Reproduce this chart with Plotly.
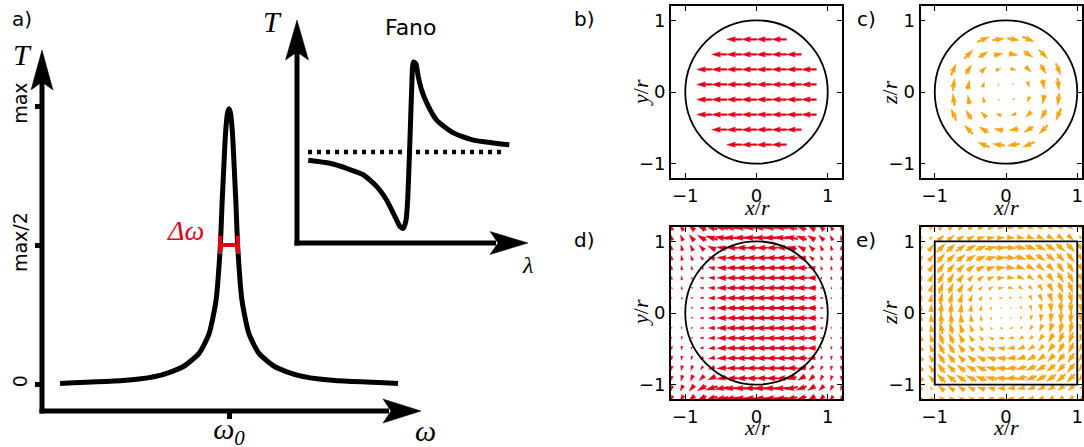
import math
import plotly.graph_objects as go

W, H = 1084, 447
RED = "#e2001a"
ORANGE = "#f5a30f"
SANS = "DejaVu Sans"
SERIF = "Liberation Serif"

# ------------------------------------------------------------------ data
# panel a: resonance line (omega relative to omega_0, T normalised to max)
lorentz_omega = [-16.9, -10.0, -6.8, -4.6, -3.0, -2.0, -1.3, -0.88, -0.68, -0.52, -0.35, -0.15, 0.0,
                 0.15, 0.35, 0.52, 0.68, 0.88, 1.3, 2.0, 3.0, 4.6, 6.8, 10.0, 16.9]
lorentz_T = [0.002, 0.014, 0.032, 0.062, 0.11, 0.18, 0.30, 0.49, 0.66, 0.78, 0.90, 0.975, 0.99,
             0.975, 0.90, 0.78, 0.66, 0.49, 0.30, 0.18, 0.11, 0.062, 0.032, 0.014, 0.002]
omega_0 = 0.0
delta_omega = 1.8
T_tickvals = [0, 0.5, 1]
T_ticktext = ["0", "max/2", "max"]

# inset: Fano line shape
fano_lambda = [0.49, 1.43, 2.16, 2.88, 3.47, 3.90, 4.26, 4.48, 4.62, 4.74, 4.81, 4.87, 4.93, 4.99,
               5.06, 5.17, 5.27, 5.42, 5.64, 6.07, 6.80, 7.67, 8.53, 9.23]
fano_T = [0.91, 0.876, 0.82, 0.75, 0.62, 0.47, 0.29, 0.18, 0.16, 0.25, 0.47, 0.84, 1.28, 1.72,
          1.99, 1.97, 1.83, 1.68, 1.54, 1.35, 1.21, 1.13, 1.10, 1.08]
fano_background_T = 1.0
fano_background_lambda = [0.48, 9.05]

# panels b-e: field maps (angle in degrees, arrow length in 1/100 of r)
particle_radius = 1.0
cube_half_side = 1.0
coarse_grid = [-0.735, -0.525, -0.315, -0.105, 0.105, 0.315, 0.525, 0.735]
fine_grid = [-1.19, -1.05, -0.91, -0.77, -0.63, -0.49, -0.35, -0.21, -0.07,
             0.07, 0.21, 0.35, 0.49, 0.63, 0.77, 0.91, 1.05, 1.19]
tick_vals = [-1, 0, 1]
tick_text = ["\u22121", "0", "1"]

b_angle = 180
b_length = [
    [0, 0, 21, 21, 21, 21, 0, 0],
    [0, 21, 21, 21, 21, 21, 21, 0],
    [21, 21, 21, 21, 21, 21, 21, 21],
    [21, 21, 21, 21, 21, 21, 21, 21],
    [21, 21, 21, 21, 21, 21, 21, 21],
    [21, 21, 21, 21, 21, 21, 21, 21],
    [0, 21, 21, 21, 21, 21, 21, 0],
    [0, 0, 21, 21, 21, 21, 0, 0],
]

c_angle = [
    [0, 0, 23, 8, -8, -23, 0, 0],
    [0, 45, 31, 11, -11, -31, -45, 0],
    [67, 59, 45, 18, -18, -45, -59, -67],
    [82, 79, 72, 45, -45, -72, -79, -82],
    [98, 101, 108, 135, -135, -108, -101, -98],
    [113, 121, 135, 162, -162, -135, -121, -113],
    [0, 135, 149, 169, -169, -149, -135, 0],
    [0, 0, 157, 172, -172, -157, 0, 0],
]
c_length = [
    [0, 0, 18, 17, 17, 18, 0, 0],
    [0, 17, 15, 13, 13, 15, 17, 0],
    [18, 15, 11, 8, 8, 11, 15, 18],
    [17, 13, 8, 3, 3, 8, 13, 17],
    [17, 13, 8, 3, 3, 8, 13, 17],
    [18, 15, 11, 8, 8, 11, 15, 18],
    [0, 17, 15, 13, 13, 15, 17, 0],
    [0, 0, 18, 17, 17, 18, 0, 0],
]

d_angle = [
    [110, 125, 140, 155, 165, 172, 177, 180, 180, 180, 180, 178, 172, 163, 150, 140, 130, 120],
    [105, 115, 130, 150, 163, 172, 177, 180, 180, 180, 180, 177, 170, 160, 148, 135, 120, 105],
    [100, 105, 115, 135, 155, 170, 178, 180, 180, 180, 180, 178, 168, 150, 135, 120, 105, 95],
    [97, 100, 110, 130, 160, 175, 180, 180, 180, 180, 180, 180, 178, 170, 140, 115, 100, 92],
    [95, 97, 105, 150, 170, 177, 180, 180, 180, 180, 180, 180, 180, 178, 170, 110, 95, 92],
    [93, 95, 100, 165, 175, 178, 180, 180, 180, 180, 180, 180, 180, 180, 178, 100, 93, 90],
    [92, 93, 170, 172, 177, 180, 180, 180, 180, 180, 180, 180, 180, 180, 180, 180, 92, 90],
    [91, 92, 175, 177, 180, 180, 180, 180, 180, 180, 180, 180, 180, 180, 180, 180, 91, 90],
    [90, 90, 180, 180, 180, 180, 180, 180, 180, 180, 180, 180, 180, 180, 180, 180, 90, 90],
    [270, 270, 180, 180, 180, 180, 180, 180, 180, 180, 180, 180, 180, 180, 180, 180, 270, 270],
    [269, 268, 185, 183, 180, 180, 180, 180, 180, 180, 180, 180, 180, 180, 180, 180, 269, 270],
    [268, 267, 190, 188, 183, 180, 180, 180, 180, 180, 180, 180, 180, 180, 180, 180, 268, 270],
    [267, 265, 260, 195, 185, 182, 180, 180, 180, 180, 180, 180, 180, 180, 182, 260, 267, 270],
    [265, 263, 255, 210, 190, 183, 180, 180, 180, 180, 180, 180, 180, 182, 190, 250, 265, 268],
    [263, 260, 250, 230, 200, 185, 180, 180, 180, 180, 180, 180, 182, 190, 220, 245, 260, 268],
    [260, 255, 245, 225, 205, 190, 182, 180, 180, 180, 180, 182, 192, 210, 225, 240, 255, 265],
    [255, 245, 230, 210, 197, 188, 183, 180, 180, 180, 180, 183, 190, 200, 212, 225, 240, 255],
    [250, 235, 220, 205, 195, 188, 183, 180, 180, 180, 180, 182, 188, 197, 210, 220, 230, 240],
]
d_length = [
    [7, 9, 11, 14, 16, 18, 19, 20, 20, 20, 19, 18, 16, 14, 12, 10, 8, 7],
    [7, 9, 11, 14, 17, 19, 21, 21, 21, 21, 21, 20, 18, 15, 12, 10, 8, 7],
    [6, 8, 9, 10, 12, 14, 15, 15, 15, 15, 15, 15, 14, 12, 10, 8, 7, 6],
    [6, 7, 7, 6, 9, 13, 15, 16, 16, 16, 16, 16, 15, 13, 8, 6, 6, 6],
    [5, 6, 5, 5, 9, 13, 15, 16, 16, 16, 16, 16, 16, 15, 11, 5, 5, 5],
    [4, 5, 3, 5, 9, 13, 15, 16, 16, 16, 16, 16, 16, 16, 12, 3, 4, 4],
    [3, 4, 3, 5, 9, 13, 15, 16, 17, 17, 17, 17, 17, 16, 13, 4, 3, 3],
    [2, 3, 3, 5, 9, 13, 15, 17, 17, 17, 17, 17, 17, 16, 13, 4, 2, 2],
    [1, 1, 3, 5, 9, 13, 15, 17, 17, 17, 17, 17, 17, 16, 13, 4, 1, 1],
    [1, 1, 3, 5, 9, 13, 15, 17, 17, 17, 17, 17, 17, 16, 13, 4, 1, 1],
    [2, 3, 3, 5, 9, 13, 15, 17, 17, 17, 17, 17, 17, 16, 13, 4, 2, 2],
    [3, 4, 3, 5, 9, 13, 15, 16, 17, 17, 17, 17, 17, 16, 13, 4, 3, 3],
    [4, 5, 3, 5, 9, 13, 15, 16, 16, 16, 16, 16, 16, 16, 12, 3, 4, 4],
    [5, 6, 5, 5, 9, 13, 15, 16, 16, 16, 16, 16, 16, 15, 11, 5, 5, 5],
    [6, 7, 7, 6, 9, 13, 15, 16, 16, 16, 16, 16, 15, 13, 8, 6, 6, 6],
    [6, 8, 9, 10, 12, 14, 15, 15, 15, 15, 15, 15, 14, 12, 10, 8, 7, 6],
    [7, 9, 11, 14, 17, 19, 21, 21, 21, 21, 21, 20, 18, 15, 12, 10, 8, 7],
    [7, 9, 11, 14, 16, 18, 19, 20, 20, 20, 19, 18, 16, 14, 12, 10, 8, 7],
]

e_angle = [
    [45, 41, 37, 33, 28, 22, 16, 10, 3, -3, -10, -16, -22, -28, -33, -37, -41, -45],
    [49, 45, 41, 36, 31, 25, 18, 11, 4, -4, -11, -18, -25, -31, -36, -41, -45, -49],
    [53, 49, 45, 40, 35, 28, 21, 13, 4, -4, -13, -21, -28, -35, -40, -45, -49, -53],
    [57, 54, 50, 45, 39, 32, 24, 15, 5, -5, -15, -24, -32, -39, -45, -50, -54, -57],
    [62, 59, 55, 51, 45, 38, 29, 18, 6, -6, -18, -29, -38, -45, -51, -55, -59, -62],
    [68, 65, 62, 58, 52, 45, 36, 23, 8, -8, -23, -36, -45, -52, -58, -62, -65, -68],
    [74, 72, 69, 66, 61, 54, 45, 31, 11, -11, -31, -45, -54, -61, -66, -69, -72, -74],
    [80, 79, 77, 75, 72, 67, 59, 45, 18, -18, -45, -59, -67, -72, -75, -77, -79, -80],
    [87, 86, 86, 85, 84, 82, 79, 72, 45, -45, -72, -79, -82, -84, -85, -86, -86, -87],
    [93, 94, 94, 95, 96, 98, 101, 108, 135, -135, -108, -101, -98, -96, -95, -94, -94, -93],
    [100, 101, 103, 105, 108, 113, 121, 135, 162, -162, -135, -121, -113, -108, -105, -103, -101, -100],
    [106, 108, 111, 114, 119, 126, 135, 149, 169, -169, -149, -135, -126, -119, -114, -111, -108, -106],
    [112, 115, 118, 122, 128, 135, 144, 157, 172, -172, -157, -144, -135, -128, -122, -118, -115, -112],
    [118, 121, 125, 129, 135, 142, 151, 162, 174, -174, -162, -151, -142, -135, -129, -125, -121, -118],
    [123, 126, 130, 135, 141, 148, 156, 165, 175, -175, -165, -156, -148, -141, -135, -130, -126, -123],
    [127, 131, 135, 140, 145, 152, 159, 167, 176, -176, -167, -159, -152, -145, -140, -135, -131, -127],
    [131, 135, 139, 144, 149, 155, 162, 169, 176, -176, -169, -162, -155, -149, -144, -139, -135, -131],
    [135, 139, 143, 147, 152, 158, 164, 170, 177, -177, -170, -164, -158, -152, -147, -143, -139, -135],
]
e_length = [
    [5, 5, 8, 8, 8, 8, 8, 8, 8, 8, 8, 8, 8, 8, 8, 8, 5, 5],
    [5, 5, 11, 11, 11, 11, 11, 11, 11, 11, 11, 11, 11, 11, 11, 11, 5, 5],
    [8, 11, 16, 16, 16, 16, 16, 16, 16, 16, 16, 16, 16, 16, 16, 16, 11, 8],
    [8, 11, 16, 15, 15, 15, 15, 15, 15, 15, 15, 15, 15, 15, 15, 16, 11, 8],
    [8, 11, 16, 15, 13, 13, 13, 13, 13, 13, 13, 13, 13, 13, 15, 16, 11, 8],
    [8, 11, 16, 15, 13, 10, 10, 10, 10, 10, 10, 10, 10, 13, 15, 16, 11, 8],
    [8, 11, 16, 15, 13, 10, 7, 7, 7, 7, 7, 7, 10, 13, 15, 16, 11, 8],
    [8, 11, 16, 15, 13, 10, 7, 4, 4, 4, 4, 7, 10, 13, 15, 16, 11, 8],
    [8, 11, 16, 15, 13, 10, 7, 4, 2, 2, 4, 7, 10, 13, 15, 16, 11, 8],
    [8, 11, 16, 15, 13, 10, 7, 4, 2, 2, 4, 7, 10, 13, 15, 16, 11, 8],
    [8, 11, 16, 15, 13, 10, 7, 4, 4, 4, 4, 7, 10, 13, 15, 16, 11, 8],
    [8, 11, 16, 15, 13, 10, 7, 7, 7, 7, 7, 7, 10, 13, 15, 16, 11, 8],
    [8, 11, 16, 15, 13, 10, 10, 10, 10, 10, 10, 10, 10, 13, 15, 16, 11, 8],
    [8, 11, 16, 15, 13, 13, 13, 13, 13, 13, 13, 13, 13, 13, 15, 16, 11, 8],
    [8, 11, 16, 15, 15, 15, 15, 15, 15, 15, 15, 15, 15, 15, 15, 16, 11, 8],
    [8, 11, 16, 16, 16, 16, 16, 16, 16, 16, 16, 16, 16, 16, 16, 16, 11, 8],
    [5, 5, 11, 11, 11, 11, 11, 11, 11, 11, 11, 11, 11, 11, 11, 11, 5, 5],
    [5, 5, 8, 8, 8, 8, 8, 8, 8, 8, 8, 8, 8, 8, 8, 8, 5, 5],
]


# ------------------------------------------------------------------ helpers
def pxx(x):
    return x / W


def pxy(y):
    return 1 - y / H


def quiver_polygons(xs, ys_top_down, angles, lengths, w=0.025):
    """matplotlib-like quiver arrows (pivot middle) as filled polygons in data units."""
    X, Y = [], []
    for i, yc in enumerate(ys_top_down):
        for j, xc in enumerate(xs):
            L = lengths[i][j] / 100.0
            if L <= 0:
                continue
            a = angles if isinstance(angles, (int, float)) else angles[i][j]
            t = math.radians(a)
            ct, st = math.cos(t), math.sin(t)
            if L >= 5 * w:
                pts = [(0, w / 2), (L - 4.5 * w, w / 2), (L - 5 * w, 1.5 * w), (L, 0),
                       (L - 5 * w, -1.5 * w), (L - 4.5 * w, -w / 2), (0, -w / 2)]
            else:
                s = L / (5 * w)
                pts = [(0, s * w / 2), (0.5 * w * s, s * w / 2), (0, 1.5 * w * s), (L, 0),
                       (0, -1.5 * w * s), (0.5 * w * s, -s * w / 2), (0, -s * w / 2)]
            first = None
            for (u, v) in pts:
                u -= L / 2
                px_, py_ = xc + u * ct - v * st, yc + u * st + v * ct
                if first is None:
                    first = (px_, py_)
                X.append(px_)
                Y.append(py_)
            X.append(first[0])
            Y.append(first[1])
            X.append(None)
            Y.append(None)
    return X, Y


def arrow_head_path(tip, direction, length, half_width, notch):
    """filled arrow head in paper coords; tip given in pixels."""
    tx, ty = tip
    dx, dy = direction
    nx, ny = -dy, dx
    bx, by = tx - dx * length, ty - dy * length
    c1 = (bx + nx * half_width, by + ny * half_width)
    c2 = (bx - nx * half_width, by - ny * half_width)
    nt = (tx - dx * (length - notch), ty - dy * (length - notch))
    pts = [(tx, ty), c1, nt, c2]
    s = "M " + " L ".join(f"{pxx(p[0]):.5f},{pxy(p[1]):.5f}" for p in pts) + " Z"
    return dict(type="path", xref="paper", yref="paper", path=s,
                fillcolor="black", line=dict(color="black", width=0.5), layer="above")


def paper_line(p0, p1, width):
    return dict(type="line", xref="paper", yref="paper",
                x0=pxx(p0[0]), y0=pxy(p0[1]), x1=pxx(p1[0]), y1=pxy(p1[1]),
                line=dict(color="black", width=width), layer="above")


# ------------------------------------------------------------------ layout geometry
A_LEFT, A_RIGHT, A_TOP, A_BOT = 42, 421, 50, 411          # panel a axes (px)
A_OMEGA0_PX, A_PX_PER_OMEGA = 229, 10.0
A_T0_PX, A_PX_PER_T = 384, 278.0
I_LEFT, I_RIGHT, I_TOP, I_BOT = 297, 528, 20, 243          # inset axes (px)
I_PX_PER_L, I_PX_PER_T = 23.0, 91.0

fig = go.Figure()

# panel a
fig.add_trace(go.Scatter(x=lorentz_omega, y=lorentz_T, mode="lines",
                         line=dict(color="black", width=5, shape="spline", smoothing=0.6),
                         xaxis="x", yaxis="y", hoverinfo="skip"))
fig.add_trace(go.Scatter(x=[omega_0], y=[0.5], mode="markers",
                         marker=dict(size=2, color="rgba(0,0,0,0)"),
                         error_x=dict(type="constant", value=delta_omega / 2, thickness=4,
                                      width=9, color=RED),
                         xaxis="x", yaxis="y", hoverinfo="skip"))

# inset (Fano)
fig.add_trace(go.Scatter(x=fano_background_lambda, y=[fano_background_T] * 2, mode="lines",
                         line=dict(color="black", width=4.5, dash="4px,5px"),
                         xaxis="x2", yaxis="y2", hoverinfo="skip"))
fig.add_trace(go.Scatter(x=fano_lambda, y=fano_T, mode="lines",
                         line=dict(color="black", width=5, shape="spline", smoothing=0.6),
                         xaxis="x2", yaxis="y2", hoverinfo="skip"))

# panels b-e
ys_coarse = coarse_grid[::-1]
ys_fine = fine_grid[::-1]
panels = [
    ("3", coarse_grid, ys_coarse, b_angle, b_length, RED),
    ("4", coarse_grid, ys_coarse, c_angle, c_length, ORANGE),
    ("5", fine_grid, ys_fine, d_angle, d_length, RED),
    ("6", fine_grid, ys_fine, e_angle, e_length, ORANGE),
]
for k, xs, ys, ang, ln, col in panels:
    X, Y = quiver_polygons(xs, ys, ang, ln)
    fig.add_trace(go.Scatter(x=X, y=Y, mode="lines", fill="toself", fillcolor=col,
                             line=dict(color=col, width=0.4), xaxis="x" + k, yaxis="y" + k,
                             hoverinfo="skip"))

layout = dict(
    width=W, height=H, margin=dict(l=0, r=0, t=0, b=0, autoexpand=False),
    paper_bgcolor="white", plot_bgcolor="rgba(0,0,0,0)", showlegend=False,
    xaxis=dict(domain=[pxx(A_LEFT), pxx(A_RIGHT)],
               range=[(A_LEFT - A_OMEGA0_PX) / A_PX_PER_OMEGA, (A_RIGHT - A_OMEGA0_PX) / A_PX_PER_OMEGA],
               showline=False, showgrid=False, zeroline=False, automargin=False,
               tickvals=[omega_0], ticktext=["<i>\u03c9</i><sub><i>0</i></sub>"],
               ticks="outside", ticklen=7, tickwidth=5, tickcolor="black", ticklabelstandoff=-16,
               tickfont=dict(family=SERIF, size=30, color="black"), anchor="y"),
    yaxis=dict(domain=[pxy(A_BOT), pxy(A_TOP)],
               range=[(A_T0_PX - A_BOT) / A_PX_PER_T, (A_T0_PX - A_TOP) / A_PX_PER_T],
               showline=False, showgrid=False, zeroline=False, automargin=False,
               tickvals=T_tickvals, ticktext=T_ticktext, tickangle=-90,
               ticks="outside", ticklen=6, tickwidth=5, tickcolor="black",
               tickfont=dict(family=SANS, size=19, color="black"), anchor="x"),
    xaxis2=dict(domain=[pxx(I_LEFT), pxx(I_RIGHT)], range=[0, (I_RIGHT - I_LEFT) / I_PX_PER_L],
                visible=False, anchor="y2", automargin=False),
    yaxis2=dict(domain=[pxy(I_BOT), pxy(I_TOP)], range=[0, (I_BOT - I_TOP) / I_PX_PER_T],
                visible=False, anchor="x2", automargin=False),
)

quiver_boxes = {
    "3": ((671, 842), (6, 178), (-1.2, 1.2)),
    "4": ((920.5, 1082), (6, 178), (-1.2, 1.0667)),
    "5": ((671, 842), (227, 399), (-1.2, 1.2)),
    "6": ((920.5, 1082), (227, 399), (-1.2, 1.0667)),
}
common = dict(showline=True, linecolor="black", linewidth=1.8, mirror="ticks",
              ticks="inside", ticklen=5, tickwidth=1.2, tickcolor="black",
              tickvals=tick_vals, ticktext=tick_text, showgrid=False, zeroline=False,
              automargin=False, tickfont=dict(family=SANS, size=18, color="black"))
for k, (xd, yd, xr) in quiver_boxes.items():
    layout["xaxis" + k] = dict(domain=[pxx(xd[0]), pxx(xd[1])], range=list(xr), anchor="y" + k, **common)
    layout["yaxis" + k] = dict(domain=[pxy(yd[1]), pxy(yd[0])], range=[-1.2, 1.2], anchor="x" + k, **common)

fig.update_layout(**layout)

# shapes: particle outlines and schematic axes with arrow heads
shapes = []
for k in ("3", "4", "5"):
    shapes.append(dict(type="circle", xref="x" + k, yref="y" + k,
                       x0=-particle_radius, x1=particle_radius,
                       y0=-particle_radius, y1=particle_radius,
                       line=dict(color="black", width=1.8), layer="above"))
shapes.append(dict(type="rect", xref="x6", yref="y6",
                   x0=-cube_half_side, x1=cube_half_side, y0=-cube_half_side, y1=cube_half_side,
                   line=dict(color="black", width=1.8), layer="above"))

# panel a axes
shapes.append(paper_line((A_LEFT, A_BOT + 2.5), (A_LEFT, A_TOP + 32), 5))
shapes.append(arrow_head_path((A_LEFT, A_TOP), (0, -1), 40, 11, 8))
shapes.append(paper_line((A_LEFT - 2.5, A_BOT), (A_RIGHT - 32, A_BOT), 5))
shapes.append(arrow_head_path((A_RIGHT, A_BOT), (1, 0), 38, 12, 8))
# inset axes
shapes.append(paper_line((I_LEFT, I_BOT + 2.5), (I_LEFT, I_TOP + 32), 5))
shapes.append(arrow_head_path((I_LEFT, I_TOP), (0, -1), 40, 11.5, 8))
shapes.append(paper_line((I_LEFT - 2.5, I_BOT), (I_RIGHT - 32, I_BOT), 5))
shapes.append(arrow_head_path((I_RIGHT, I_BOT), (1, 0), 38, 11.5, 8))
fig.update_layout(shapes=shapes)


def txt(text, x, y, size, family=SANS, color="black", angle=0, xanchor="center"):
    return dict(text=text, x=pxx(x), y=pxy(y), xref="paper", yref="paper", showarrow=False,
                xanchor=xanchor, yanchor="middle", textangle=angle,
                font=dict(family=family, size=size, color=color))


ann = [
    txt("a)", 22, 19, 20),
    txt("b)", 584, 19, 20),
    txt("c)", 866, 19, 20),
    txt("d)", 584, 240, 20),
    txt("e)", 866, 240, 20),
    txt("<i>T</i>", 22, 54, 30, SERIF),
    txt("<i>T</i>", 272, 22, 30, SERIF),
    txt("Fano", 411, 27, 22),
    txt("<i>\u03c9</i>", 425, 430, 30, SERIF),
    txt("<i>\u03bb</i>", 527, 265, 24, SERIF),
    txt("<i>\u0394\u03c9</i>", 185, 230, 28, SERIF, RED),
]
for cx, cy, ylab in ((757, 93, "y"), (1006, 93, "z"), (757, 313, "y"), (1006, 313, "z")):
    ann.append(txt("<i>x</i>/<i>r</i>", cx, cy + 114, 22, SERIF))
    ann.append(txt(f"<i>{ylab}</i>/<i>r</i>", cx - 117, cy, 22, SERIF, angle=-90))
fig.update_layout(annotations=ann)

fig.write_html("out.html")
